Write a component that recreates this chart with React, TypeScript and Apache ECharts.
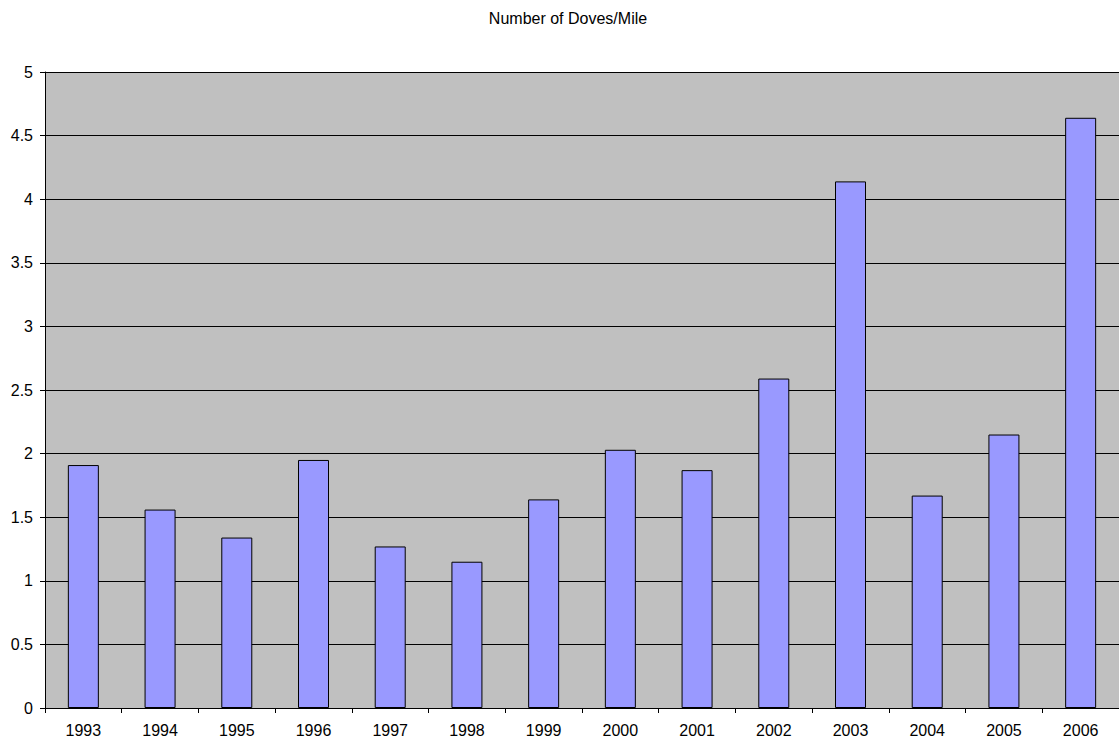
import React, { useEffect, useRef } from "react";
import * as echarts from "echarts";

const years = ["1993", "1994", "1995", "1996", "1997", "1998", "1999", "2000", "2001", "2002", "2003", "2004", "2005", "2006"];
const dovesPerMile = [1.91, 1.56, 1.34, 1.95, 1.27, 1.15, 1.64, 2.03, 1.87, 2.59, 4.14, 1.67, 2.15, 4.64];
const titleText = "Number of Doves/Mile";

export default function App() {
  const ref = useRef<HTMLDivElement>(null);
  useEffect(() => {
    if (!ref.current) return;
    const chart = echarts.init(ref.current, null, { renderer: "svg" });
    chart.setOption({
      animation: false,
      backgroundColor: "#ffffff",
      title: {
        text: titleText,
        left: 563,
        top: 5,
        textAlign: "center",
        textStyle: { fontFamily: "Liberation Sans, Arial, sans-serif", fontSize: 16, fontWeight: "normal", color: "#000" },
      },
      grid: {
        left: 45,
        top: 72,
        width: 1075,
        height: 636,
        show: true,
        backgroundColor: "#C0C0C0",
        borderWidth: 0,
      },
      xAxis: {
        type: "category",
        data: years,
        axisLine: { lineStyle: { color: "#000", width: 1 } },
        axisTick: { show: true, length: 5, inside: false, alignWithLabel: false, lineStyle: { color: "#000" } },
        axisLabel: { margin: 14, fontFamily: "Liberation Sans, Arial, sans-serif", fontSize: 16, color: "#000" },
        splitLine: { show: false },
      },
      yAxis: {
        type: "value",
        min: 0,
        max: 5,
        interval: 0.5,
        axisLine: { show: true, lineStyle: { color: "#000", width: 1 } },
        axisTick: { show: true, length: 5, lineStyle: { color: "#000" } },
        axisLabel: { margin: 12, fontFamily: "Liberation Sans, Arial, sans-serif", fontSize: 16, color: "#000" },
        splitLine: { show: true, lineStyle: { color: "#000", width: 1 } },
      },
      series: [
        {
          type: "bar",
          data: dovesPerMile,
          barWidth: 31,
          itemStyle: { color: "#9999FF", borderColor: "#000", borderWidth: 1 },
        },
      ],
    });
    return () => chart.dispose();
  }, []);
  return <div ref={ref} style={{ position: "absolute", left: 0, top: 0, width: 1119, height: 746 }} />;
}
